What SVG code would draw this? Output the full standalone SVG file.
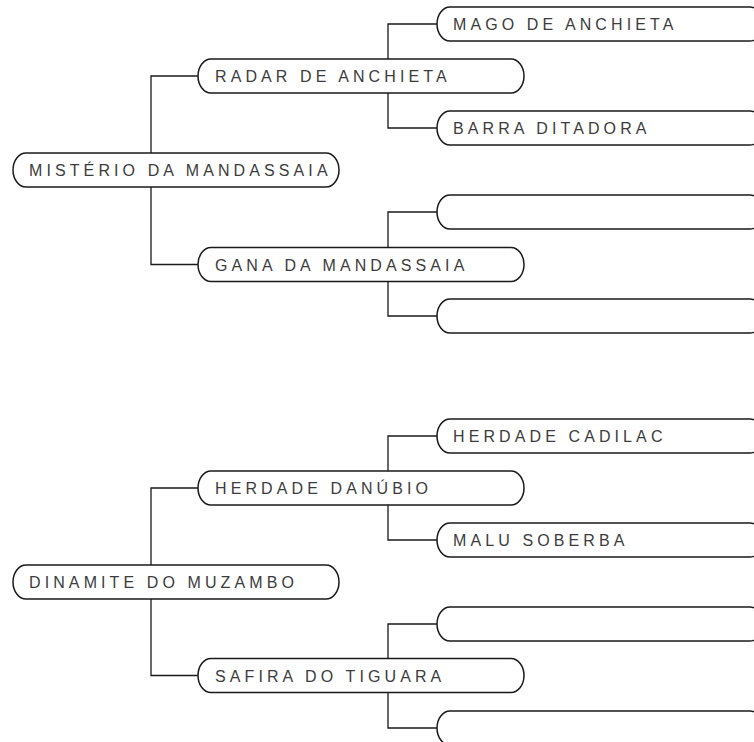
<svg xmlns="http://www.w3.org/2000/svg" width="754" height="742" viewBox="0 0 754 742">
<style>
.n{fill:#fff;stroke:#1a1a1a;stroke-width:1.5}
.c{fill:none;stroke:#1a1a1a;stroke-width:1.3}
.t{font-family:"Liberation Sans",Arial,sans-serif;font-size:16px;letter-spacing:4.1px;fill:#3c3c3c}
</style>
<rect width="754" height="742" fill="#fff"/>
<g id="connectors">
<path class="c" d="M198,76 H151 V264.5 H198"/>
<path class="c" d="M437,24 H388 V128 H437"/>
<path class="c" d="M437,212 H388 V316 H437"/>
<path class="c" d="M198,488 H151 V675.5 H198"/>
<path class="c" d="M437,436 H388 V540 H437"/>
<path class="c" d="M437,624 H388 V728 H437"/>
</g>
<g id="n-misterio"><rect class="n" x="13" y="153" width="326" height="34" rx="13" ry="17"/><text class="t" x="29" y="176">MISTÉRIO DA MANDASSAIA</text></g>
<g id="n-radar"><rect class="n" x="198" y="59" width="326" height="34" rx="13" ry="17"/><text class="t" x="215" y="82">RADAR DE ANCHIETA</text></g>
<g id="n-gana"><rect class="n" x="198" y="247.5" width="326" height="34" rx="13" ry="17"/><text class="t" x="215" y="270.5">GANA DA MANDASSAIA</text></g>
<g id="n-mago"><rect class="n" x="437" y="7" width="326" height="34" rx="13" ry="17"/><text class="t" x="453" y="30">MAGO DE ANCHIETA</text></g>
<g id="n-barra"><rect class="n" x="437" y="111" width="326" height="34" rx="13" ry="17"/><text class="t" x="453" y="134">BARRA DITADORA</text></g>
<g id="n-empty1"><rect class="n" x="437" y="195" width="326" height="34" rx="13" ry="17"/></g>
<g id="n-empty2"><rect class="n" x="437" y="299" width="326" height="34" rx="13" ry="17"/></g>
<g id="n-dinamite"><rect class="n" x="13" y="565" width="326" height="34" rx="13" ry="17"/><text class="t" x="29" y="588">DINAMITE DO MUZAMBO</text></g>
<g id="n-danubio"><rect class="n" x="198" y="471" width="326" height="34" rx="13" ry="17"/><text class="t" x="215" y="494">HERDADE DANÚBIO</text></g>
<g id="n-safira"><rect class="n" x="198" y="658.5" width="326" height="34" rx="13" ry="17"/><text class="t" x="215" y="681.5">SAFIRA DO TIGUARA</text></g>
<g id="n-cadilac"><rect class="n" x="437" y="419" width="326" height="34" rx="13" ry="17"/><text class="t" x="453" y="442">HERDADE CADILAC</text></g>
<g id="n-malu"><rect class="n" x="437" y="523" width="326" height="34" rx="13" ry="17"/><text class="t" x="453" y="546">MALU SOBERBA</text></g>
<g id="n-empty3"><rect class="n" x="437" y="607" width="326" height="34" rx="13" ry="17"/></g>
<g id="n-empty4"><rect class="n" x="437" y="711" width="326" height="34" rx="13" ry="17"/></g>
</svg>
